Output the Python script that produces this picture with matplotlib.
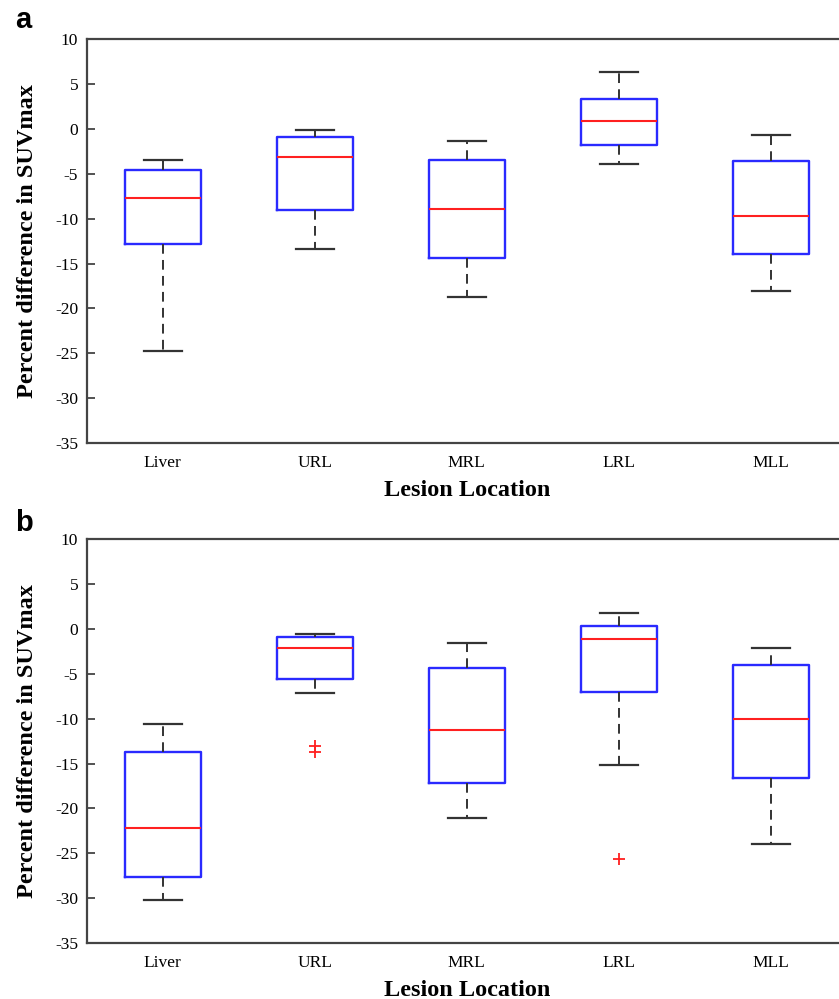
"""
Percent difference in SUVmax by lesion location — two boxplot panels (a, b)
"""

import matplotlib
matplotlib.use("Agg")
import matplotlib.pyplot as plt

plt.rcParams['font.family'] = ['Liberation Serif', 'DejaVu Serif']
plt.rcParams['lines.scale_dashes'] = False

# categories
locations = ['Liver', 'URL', 'MRL', 'LRL', 'MLL']

# panel a
a_whishi = [-3.4, -0.15, -1.3, 6.4, -0.7]
a_q3 = [-4.6, -0.9, -3.4, 3.35, -3.5]
a_med = [-7.7, -3.1, -8.9, 0.95, -9.7]
a_q1 = [-12.8, -9.0, -14.4, -1.8, -13.95]
a_whislo = [-24.8, -13.4, -18.7, -3.9, -18.0]
a_fliers = [[], [], [], [], []]

# panel b
b_whishi = [-10.6, -0.5, -1.5, 1.75, -2.1]
b_q3 = [-13.7, -0.9, -4.35, 0.4, -4.05]
b_med = [-22.2, -2.1, -11.3, -1.15, -10.0]
b_q1 = [-27.6, -5.6, -17.2, -7.05, -16.6]
b_whislo = [-30.2, -7.1, -21.05, -15.1, -24.0]
b_fliers = [[], [-13.05, -13.65], [], [-25.6], []]

y_ticks = [10, 5, 0, -5, -10, -15, -20, -25, -30, -35]


def make_stats(lo, q1, med, q3, hi, fl):
    return [dict(whislo=lo[i], q1=q1[i], med=med[i], q3=q3[i], whishi=hi[i],
                 fliers=fl[i], label=locations[i]) for i in range(len(locations))]


def draw_panel(ax, stats):
    pos = list(range(1, len(locations) + 1))
    ax.bxp(stats, positions=pos, widths=0.5, capwidths=0.25,
           boxprops=dict(color='#2a2aff', linewidth=1.7),
           medianprops=dict(color='#ff2020', linewidth=1.5),
           whiskerprops=dict(color='#333333', linewidth=1.4, linestyle=(0, (7, 4.5))),
           capprops=dict(color='#333333', linewidth=1.6),
           flierprops=dict(marker='+', markeredgecolor='#ff2020', markersize=8,
                           markeredgewidth=1.3, linestyle='none'))
    ax.set_xlim(0.5, 5.5)
    ax.set_ylim(-35, 10)
    ax.set_yticks(y_ticks)
    ax.set_yticklabels([str(t) for t in y_ticks])
    ax.set_xticks(pos)
    ax.set_xticklabels(locations)
    ax.tick_params(axis='x', length=0, pad=9, labelsize=12.5)
    ax.tick_params(axis='y', direction='in', right=True, length=6, width=1.3,
                   pad=6, labelsize=12.5, color='#444444')
    for s in ax.spines.values():
        s.set_color('#444444')
        s.set_linewidth(1.6)
    ax.set_ylabel('Percent difference in SUVmax', fontsize=17.5,
                  fontweight='bold', labelpad=12)
    ax.set_xlabel('Lesion Location', fontsize=17.5, fontweight='bold', labelpad=6)


fig = plt.figure(figsize=(8.39, 9.99), dpi=100)
ax_a = fig.add_axes([0.1031, 0.5566, 0.9064, 0.4039])
ax_b = fig.add_axes([0.1031, 0.0561, 0.9064, 0.4039])

draw_panel(ax_a, make_stats(a_whislo, a_q1, a_med, a_q3, a_whishi, a_fliers))
draw_panel(ax_b, make_stats(b_whislo, b_q1, b_med, b_q3, b_whishi, b_fliers))

fig.text(0.018, 0.972, 'a', fontsize=21, fontweight='bold',
         family=['Liberation Sans', 'DejaVu Sans'])
fig.text(0.018, 0.4685, 'b', fontsize=21, fontweight='bold',
         family=['Liberation Sans', 'DejaVu Sans'])

fig.savefig('out.png', dpi=100)
